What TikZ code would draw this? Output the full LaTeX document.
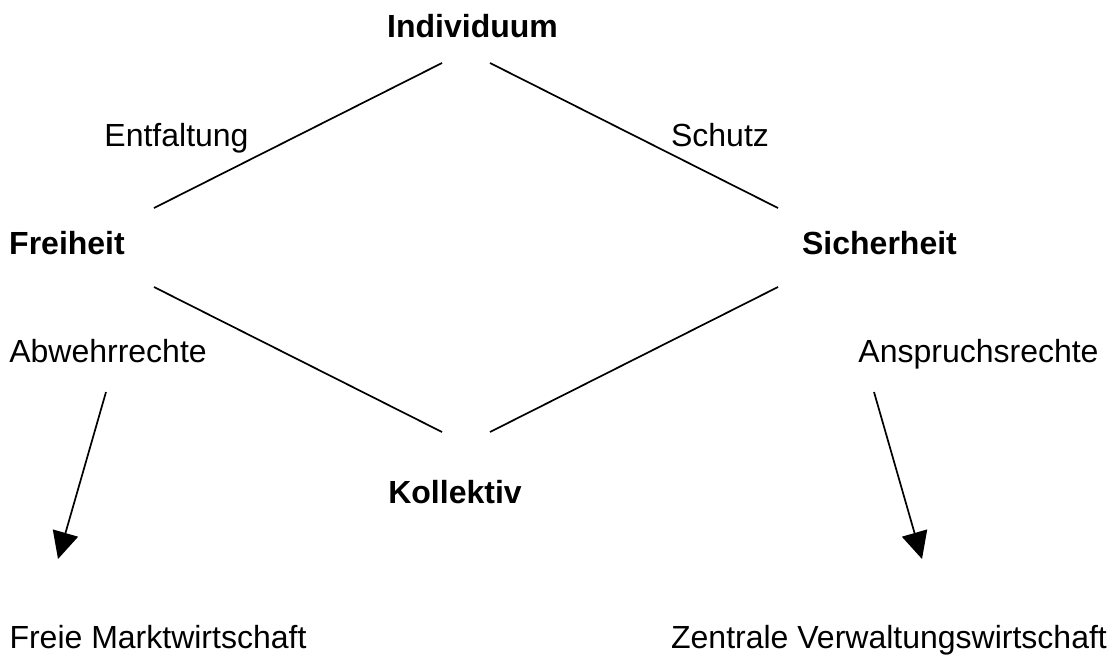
\documentclass[tikz,border=0pt]{standalone}
\usepackage{fontspec}
\setmainfont{Liberation Sans}
\usetikzlibrary{arrows.meta}
\begin{document}
\begin{tikzpicture}[x=1pt,y=-1pt,
  lbl/.style={anchor=base,inner sep=0pt,font=\fontsize{32}{38}\selectfont},
  bold/.style={lbl,font=\fontsize{32}{38}\selectfont\bfseries},
  conn/.style={line width=1.7pt},
  arr/.style={line width=1.7pt,-{Triangle[length=27pt,width=26pt]}}]
\useasboundingbox (0,0) rectangle (1114,657);
\fill[white] (0,0) rectangle (1114,657);
\node[bold] (ind) at (472.5,37) {Individuum};
\node[lbl] (ent) at (176.5,146) {Entfaltung};
\node[lbl] (sch) at (720,146) {Schutz};
\node[bold] (frei) at (67,254) {Freiheit};
\node[bold] (sich) at (879.5,254) {Sicherheit};
\node[lbl] (abw) at (108,362) {Abwehrrechte};
\node[lbl] (ansp) at (978.5,362) {Anspruchsrechte};
\node[bold] (koll) at (455,503) {Kollektiv};
\node[lbl] (fmw) at (158,648) {Freie Marktwirtschaft};
\node[lbl] (zvw) at (889,648) {Zentrale Verwaltungswirtschaft};
\coordinate (indL) at (442,63);
\coordinate (indR) at (490,63);
\coordinate (freiU) at (154,208);
\coordinate (freiD) at (154,287);
\coordinate (sichU) at (778,208);
\coordinate (sichD) at (778,287);
\coordinate (kollL) at (442,432);
\coordinate (kollR) at (490,432);
\coordinate (abwS) at (106,392);
\coordinate (fmwT) at (58,559);
\coordinate (anspS) at (874,392);
\coordinate (zvwT) at (922,559);
\draw[conn] (indL) -- (freiU);
\draw[conn] (indR) -- (sichU);
\draw[conn] (freiD) -- (kollL);
\draw[conn] (sichD) -- (kollR);
\draw[arr] (abwS) -- (fmwT);
\draw[arr] (anspS) -- (zvwT);
\end{tikzpicture}
\end{document}
